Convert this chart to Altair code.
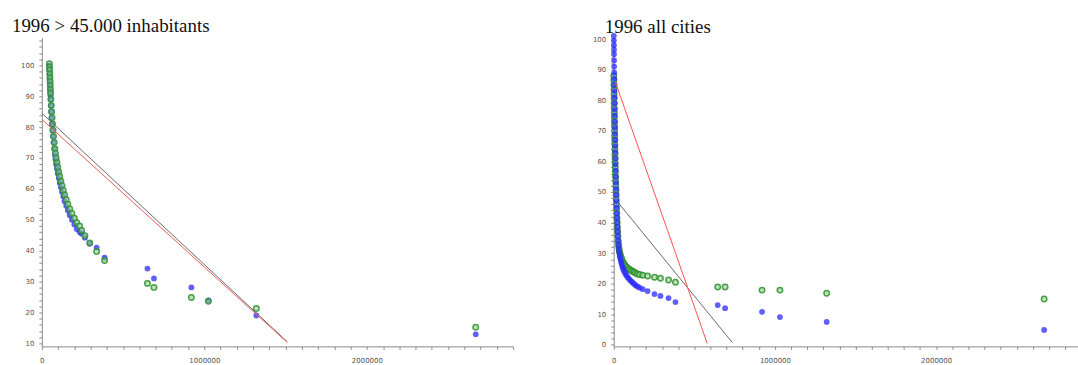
import altair as alt
import pandas as pd

# ---------------- left panel: 1996 > 45.000 inhabitants ----------------
left_pop = [46000, 47000, 48000, 49000, 50000, 51000, 52000, 53000, 54000, 56000,
            58000, 60000, 63000, 66000, 69000, 72000, 76000, 80000, 84000, 88000,
            93000, 98000, 104000, 110000, 117000, 124000, 132000, 140000, 150000, 160000,
            172000, 185000, 200000, 215000, 232000, 245000, 265000, 295000, 337000, 386000,
            650000, 690000, 920000, 1025000, 1320000, 2670000]
left_blue = [100, 98.5, 97, 95.5, 94, 92.7, 91.5, 90.2, 89, 87,
             85, 83, 81, 79, 77, 75, 73, 71, 69.5, 68,
             66.5, 65, 63.5, 62, 60.5, 59, 57.5, 56, 54.5, 53,
             51.5, 50, 48.5, 47, 46, 45.5, 44.2, 42.3, 41, 37.7,
             34.2, 31, 28.1, 23.9, 19, 12.9]
left_green = [100.5, 99.5, 98.5, 97.2, 96, 94.7, 93.5, 92.2, 91, 89,
              87, 85, 83, 81, 79, 77, 75, 73, 71.5, 70,
              68.5, 67, 65.5, 64, 62.5, 61, 59.5, 58, 56.5, 55,
              53.5, 52, 50.5, 49, 48, 46.5, 44.8, 42.5, 39.7, 36.8,
              29.4, 28.1, 24.8, 23.6, 21.3, 15.2]
left_line_x = [0, 1510000]
left_black_y = [84.5, 10.5]
left_red_y = [82.5, 10.3]

# ---------------- right panel: 1996 all cities ----------------
right_pop = [400, 800, 1200, 1600, 2000, 2400, 2800, 3200, 3600, 4000,
             4500, 5000, 5500, 6000, 6500, 7000, 7500, 8000, 8500, 9000,
             9500, 10000, 11000, 12000, 13000, 14000, 15000, 16000, 17000, 18000,
             19000, 20000, 21500, 23000, 24500, 26000, 28000, 30000, 32000, 35000,
             38000, 42000, 46000, 50000, 55000, 60000, 66000, 73000, 80000, 88000,
             96000, 105000, 115000, 125000, 135000, 147000, 160000, 180000, 210000, 253000,
             290000, 340000, 383000, 645000, 691000, 920000, 1031000, 1321000, 2670000]
right_blue = [101, 99.5, 98, 96.5, 95, 93, 91, 89, 87, 85,
              83, 81, 79, 77, 75, 73, 71, 69, 67, 65,
              63, 61, 59, 57, 55, 53, 51, 49, 47, 45,
              43, 41.5, 40, 38.5, 37, 35.5, 34, 32.5, 31.2, 30,
              29, 28, 27, 26.2, 25.3, 24.6, 23.9, 23.2, 22.6, 22,
              21.5, 21, 20.5, 20, 19.5, 19.1, 18.7, 18.2, 17.6, 16.6,
              16, 15.3, 14, 13, 12, 10.8, 9.1, 7.5, 4.9]
right_green = [88, 86.5, 85, 83.5, 82, 80.5, 79, 77.5, 76, 74.5,
               73, 71.5, 70, 68.5, 67, 65.5, 64, 62.5, 61, 59.5,
               58, 56.5, 55, 53.5, 52, 50.5, 49, 47.5, 46, 44.5,
               43, 41.5, 40, 38.5, 37, 35.5, 34, 32.8, 31.8, 30.8,
               30, 29.2, 28.5, 27.9, 27.3, 26.8, 26.3, 25.8, 25.4, 25,
               24.7, 24.4, 24.1, 23.8, 23.5, 23.2, 23, 22.8, 22.5, 22.1,
               21.8, 21.2, 20.5, 18.9, 18.9, 17.9, 17.9, 16.9, 15]
right_red_x = [10000, 580000]
right_red_y = [86, 0.5]
right_black_x = [20000, 735000]
right_black_y = [47, 0.8]

left_x_ticks = [i * 100000 for i in range(0, 30)]
right_x_ticks = [i * 100000 for i in range(0, 29)]
left_y_ticks = [v for v in range(10, 109, 2)]
right_y_ticks = [v for v in range(0, 101, 2)]

BLUE = "#2a2aff"
GREEN_STROKE = "#2f8f2f"
GREEN_FILL = "#8fd08f"
AXIS_COLOR = "#8a8a8a"
LABEL_COLOR = "#555555"


def make_panel(pop, yb, yg, lines, xdom, ydom, xticks, yticks, title, tdx, toff,
               w, h, green_on_top):
    pts = pd.DataFrame({"pop": pop * 2,
                        "val": yb + yg,
                        "series": ["blue"] * len(pop) + ["green"] * len(pop)})
    xs = alt.Scale(domain=xdom, nice=False, zero=False)
    ys = alt.Scale(domain=ydom, nice=False, zero=False)
    xax = alt.Axis(values=xticks, grid=False,
                   labelExpr="datum.value % 1000000 === 0 ? format(datum.value, 'd') : ''",
                   labelFont="DejaVu Sans", labelFontSize=7, labelColor=LABEL_COLOR,
                   labelPadding=7, tickSize=3, tickColor=AXIS_COLOR,
                   domainColor=AXIS_COLOR, title=None, labelFlush=False,
                   labelOverlap=False)
    yax = alt.Axis(values=yticks, grid=False,
                   labelExpr="datum.value % 10 === 0 ? format(datum.value, 'd') : ''",
                   labelFont="DejaVu Sans", labelFontSize=7, labelColor=LABEL_COLOR,
                   labelPadding=5, tickSize=3, tickColor=AXIS_COLOR,
                   domainColor=AXIS_COLOR, title=None, labelOverlap=False)

    blue = alt.Chart(pts[pts.series == "blue"]).mark_circle(
        size=34, color=BLUE, opacity=0.75).encode(
        x=alt.X("pop:Q", scale=xs, axis=xax),
        y=alt.Y("val:Q", scale=ys, axis=yax))
    green = alt.Chart(pts[pts.series == "green"]).mark_point(
        shape="circle", size=30, filled=True, fill=GREEN_FILL, fillOpacity=0.6,
        stroke=GREEN_STROKE, strokeWidth=1.5, strokeOpacity=0.85).encode(
        x=alt.X("pop:Q", scale=xs, axis=xax),
        y=alt.Y("val:Q", scale=ys, axis=yax))

    line_layers = []
    for lx, ly, col in lines:
        ldf = pd.DataFrame({"pop": lx, "val": ly})
        line_layers.append(alt.Chart(ldf).mark_line(color=col, strokeWidth=1).encode(
            x=alt.X("pop:Q", scale=xs, axis=xax),
            y=alt.Y("val:Q", scale=ys, axis=yax)))

    pts_layers = [blue, green] if green_on_top else [green, blue]
    return alt.layer(*pts_layers, *line_layers).properties(
        width=w, height=h,
        title=alt.TitleParams(title, anchor="start", frame="group", dx=tdx,
                              font="Liberation Serif", fontSize=19,
                              fontWeight="normal", color="#111111",
                              baseline="alphabetic", offset=toff))


left = make_panel(left_pop, left_blue, left_green,
                  [(left_line_x, left_black_y, "#6a6a6a"),
                   (left_line_x, left_red_y, "#f25a5a")],
                  [0, 2900000], [9, 109], left_x_ticks, left_y_ticks,
                  "1996 > 45.000 inhabitants", -30, -14, 473, 310, True)

right = make_panel(right_pop, right_blue, right_green,
                   [(right_black_x, right_black_y, "#6a6a6a"),
                    (right_red_x, right_red_y, "#ff5050")],
                   [0, 2880000], [-0.5, 100.5], right_x_ticks, right_y_ticks,
                   "1996 all cities", -9, -19, 466, 310, False)

chart = alt.hconcat(left, right, spacing=78).resolve_scale(
    x="independent", y="independent").configure_view(stroke=None).properties(
    padding={"left": 12, "top": 16, "right": 0, "bottom": 0},
    background="white")

chart.save("out.html", embed_options={"renderer": "svg", "actions": False})
